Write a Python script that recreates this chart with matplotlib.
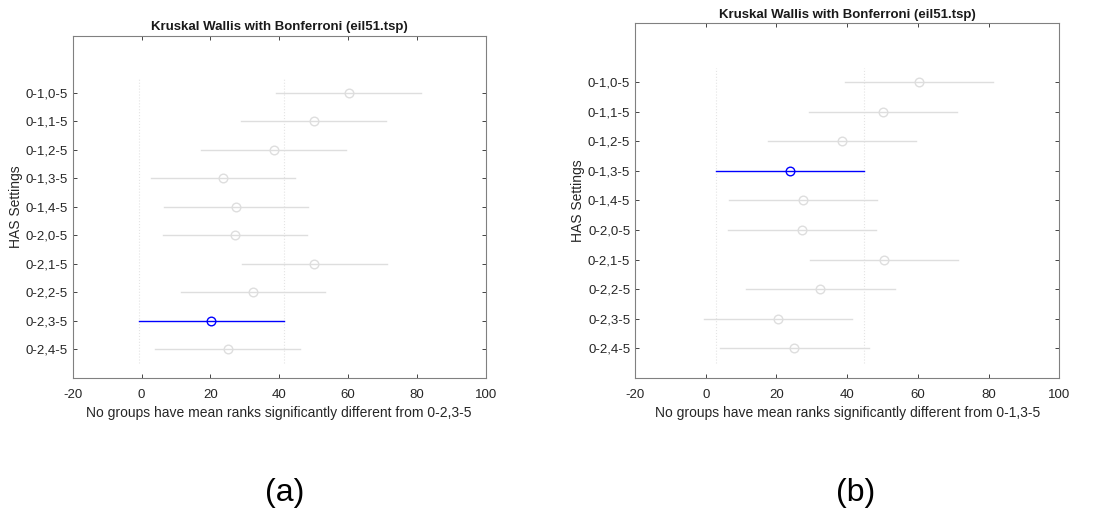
import matplotlib
matplotlib.use("Agg")
import matplotlib.pyplot as plt
import numpy as np

plt.rcParams['font.family'] = ['Liberation Sans', 'DejaVu Sans']

groups = ["0-1,0-5", "0-1,1-5", "0-1,2-5", "0-1,3-5", "0-1,4-5",
          "0-2,0-5", "0-2,1-5", "0-2,2-5", "0-2,3-5", "0-2,4-5"]
mean_ranks_a = [60.2, 50.0, 38.4, 23.7, 27.4, 27.2, 50.2, 32.4, 20.3, 25.0]
mean_ranks_b = [60.3, 50.1, 38.5, 23.8, 27.5, 27.2, 50.4, 32.4, 20.4, 25.1]
half_width = 21.0
selected_a = "0-2,3-5"
selected_b = "0-1,3-5"
title = "Kruskal Wallis with Bonferroni (eil51.tsp)"
ylabel = "HAS Settings"
xticks = [-20, 0, 20, 40, 60, 80, 100]

GREY = "#dedede"
DARK = "#262626"

fig = plt.figure(figsize=(11, 5.11), dpi=100)
ax_a = fig.add_axes([72.7/1100, 1-377.7/511, 413/1100, 341.7/511])
ax_b = fig.add_axes([635/1100, 1-377.7/511, 424.3/1100, 354.4/511])


def draw(ax, means, selected):
    n = len(groups)
    ypos = np.arange(n, 0, -1)
    sel = groups.index(selected)
    lo = means[sel] - half_width
    hi = means[sel] + half_width
    for xv in (lo, hi):
        ax.plot([xv, xv], [0.5, n + 0.5], linestyle=':', color="#e4e4e4",
                linewidth=0.8, zorder=1)
    for i, (g, m) in enumerate(zip(groups, means)):
        c = 'blue' if g == selected else GREY
        ax.plot([m - half_width, m + half_width], [ypos[i], ypos[i]],
                color=c, linewidth=1.0, zorder=2)
        ax.plot([m], [ypos[i]], marker='o', markersize=6.2, markerfacecolor='none',
                markeredgecolor=c, markeredgewidth=1.0, zorder=3)
    ax.set_xlim(-20, 100)
    ax.set_ylim(0, n + 2)
    ax.set_xticks(xticks)
    ax.set_xticklabels([str(t) for t in xticks])
    ax.set_yticks(ypos)
    ax.set_yticklabels(groups)
    ax.tick_params(direction='in', top=True, right=True, length=3,
                   width=0.6, colors=DARK, labelsize=9.5)
    ax.tick_params(axis='x', pad=8)
    ax.tick_params(axis='y', pad=3.5)
    for s in ax.spines.values():
        s.set_color("#808080")
        s.set_linewidth(0.8)
    ax.set_title(title, fontsize=9.5, fontweight='bold', color='#1a1a1a', pad=4)
    ax.set_ylabel(ylabel, fontsize=10, color=DARK, labelpad=2)
    ax.set_xlabel("No groups have mean ranks significantly different from " + selected,
                  fontsize=10, color=DARK, labelpad=4)


draw(ax_a, mean_ranks_a, selected_a)
draw(ax_b, mean_ranks_b, selected_b)

fig.text(285/1100, 1-493/511, "(a)", fontsize=23, ha='center', va='center')
fig.text(856/1100, 1-493/511, "(b)", fontsize=23, ha='center', va='center')

fig.savefig("out.png", dpi=100, facecolor='white')
